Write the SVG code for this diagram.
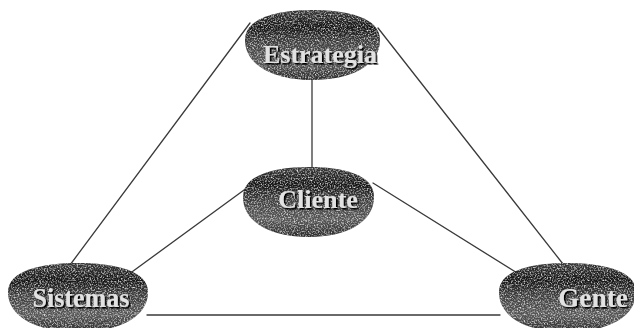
<svg xmlns="http://www.w3.org/2000/svg" width="634" height="328" viewBox="0 0 634 328">
  <style>
    .edge { stroke: #3a3a3a; stroke-width: 1.3; fill: none; stroke-linecap: round; }
    .stone { fill: url(#stoneGrad); }
    .grain { filter: url(#grain); fill: #000; }
    .label { font-family: "Liberation Serif", "Times New Roman", serif; font-weight: bold; fill: #e2e2e2; text-anchor: middle; filter: url(#emboss); }
  </style>
  <defs>
    <linearGradient id="stoneGrad" x1="0" y1="0" x2="0" y2="1">
      <stop offset="0" stop-color="#3a3a3a"/>
      <stop offset="0.25" stop-color="#151515"/>
      <stop offset="0.45" stop-color="#3c3c3c"/>
      <stop offset="0.75" stop-color="#585858"/>
      <stop offset="1" stop-color="#2a2a2a"/>
    </linearGradient>
    <filter id="grain" x="0" y="0" width="100%" height="100%">
      <feTurbulence type="fractalNoise" baseFrequency="0.7" numOctaves="2" seed="7" result="n"/>
      <feColorMatrix in="n" type="matrix" values="0 0 0 0 0.8  0 0 0 0 0.8  0 0 0 0 0.8  2.4 0 0 0 -1.05" result="w"/>
      <feComposite in="w" in2="SourceAlpha" operator="in"/>
    </filter>
    <filter id="emboss" x="-10%" y="-20%" width="130%" height="150%">
      <feDropShadow dx="1.6" dy="1.6" stdDeviation="0.7" flood-color="#000" flood-opacity="1"/>
    </filter>
  </defs>

  <rect x="0" y="0" width="634" height="328" fill="#ffffff"/>

  <g id="connectors">
    <line class="edge" x1="250" y1="23" x2="67" y2="269"/>
    <line class="edge" x1="378" y1="28" x2="563" y2="264"/>
    <line class="edge" x1="312" y1="78" x2="312" y2="169"/>
    <line class="edge" x1="255" y1="182" x2="125" y2="277"/>
    <line class="edge" x1="373" y1="183" x2="522" y2="276"/>
    <line class="edge" x1="147" y1="315" x2="500" y2="315"/>
  </g>

  <g id="node-estrategia">
    <path class="stone" d="M245,40 C245,17 280,10 312,10 C346,10 380,17 380,40 C380,66 350,80 312,80 C275,80 245,66 245,40 Z"/>
    <path class="grain" d="M245,40 C245,17 280,10 312,10 C346,10 380,17 380,40 C380,66 350,80 312,80 C275,80 245,66 245,40 Z"/>
    <text class="label" x="320" y="63" font-size="25" textLength="114" lengthAdjust="spacingAndGlyphs">Estrategia</text>
  </g>

  <g id="node-cliente">
    <path class="stone" d="M243,197 C243,174 277,167 309,167 C342,167 374,174 374,197 C374,223 345,237 309,237 C272,237 243,223 243,197 Z"/>
    <path class="grain" d="M243,197 C243,174 277,167 309,167 C342,167 374,174 374,197 C374,223 345,237 309,237 C272,237 243,223 243,197 Z"/>
    <text class="label" x="318" y="208" font-size="25" textLength="80" lengthAdjust="spacingAndGlyphs">Cliente</text>
  </g>

  <g id="node-sistemas">
    <path class="stone" d="M8,292 C8,270 43,263 78,263 C113,263 148,270 148,292 C148,318 117,332 78,332 C39,332 8,318 8,292 Z"/>
    <path class="grain" d="M8,292 C8,270 43,263 78,263 C113,263 148,270 148,292 C148,318 117,332 78,332 C39,332 8,318 8,292 Z"/>
    <text class="label" x="81" y="307" font-size="28" textLength="97" lengthAdjust="spacingAndGlyphs">Sistemas</text>
  </g>

  <g id="node-gente">
    <path class="stone" d="M499,292 C499,270 533,263 567,263 C601,263 636,270 636,292 C636,318 606,332 567,332 C528,332 499,318 499,292 Z"/>
    <path class="grain" d="M499,292 C499,270 533,263 567,263 C601,263 636,270 636,292 C636,318 606,332 567,332 C528,332 499,318 499,292 Z"/>
    <text class="label" x="593" y="307" font-size="28" textLength="70" lengthAdjust="spacingAndGlyphs">Gente</text>
  </g>
</svg>
